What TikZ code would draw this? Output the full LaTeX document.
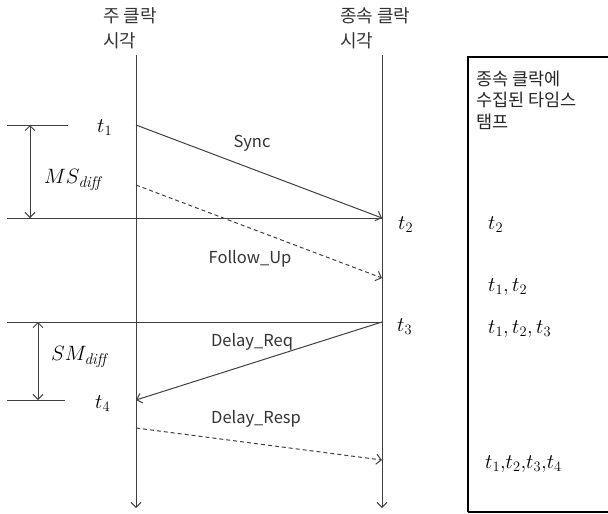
\documentclass[tikz,border=0pt]{standalone}
\usepackage{fontspec}
\newfontfamily\kr{Noto Sans CJK KR}
\usetikzlibrary{arrows.meta}
\begin{document}
\begin{tikzpicture}[x=1pt,y=-1pt,
  ln/.style={draw=black!75, line width=1pt},
  arr/.style={ln, -{Straight Barb[length=5pt,width=10pt]}},
  darr/.style={arr, dash pattern=on 4pt off 3pt},
  dim/.style={ln, {Straight Barb[length=5pt,width=10pt]}-{Straight Barb[length=5pt,width=10pt]}},
  ktxt/.style={font=\kr\fontsize{18}{25}\selectfont, text=black!80, align=left, anchor=west, inner sep=0pt},
  btxt/.style={font=\kr\fontsize{17.5}{21.5}\selectfont, text=black!85, align=left, anchor=west, inner sep=0pt},
  msg/.style={font=\kr\fontsize{16.5}{18}\selectfont, text=black!80, inner sep=0pt},
  mth/.style={font=\fontsize{22}{24}\selectfont, inner sep=0pt, anchor=west}]
\useasboundingbox (0,0) rectangle (608,514);
% lifelines
\coordinate (mtop) at (136,55);
\coordinate (mbot) at (136,508);
\coordinate (stop) at (382,55);
\coordinate (sbot) at (382,508);
\draw[arr] (mtop) -- (mbot);
\draw[arr] (stop) -- (sbot);
\node[ktxt] (mlab) at (103,28) {주 클락\\시각};
\node[ktxt] (slab) at (340,28) {종속 클락\\시각};
% box
\draw[line width=2.5pt] (468,512) -- (468,57) -- (612,57);
\draw[line width=2.5pt] (468,512) -- (612,512);
\node[btxt] (blab) at (476,100) {종속 클락에\\수집된 타임스\\탬프};
% points
\coordinate (t1) at (136,125);
\coordinate (t2) at (382,218);
\coordinate (fu1) at (136,185);
\coordinate (fu2) at (382,278);
\coordinate (t3) at (382,322);
\coordinate (t4) at (136,400);
\coordinate (dr1) at (136,428);
\coordinate (dr2) at (382,460);
% horizontal reference lines
\coordinate (h1a) at (7,125); \coordinate (h1b) at (68,125);
\coordinate (h2a) at (7,218);
\coordinate (h3a) at (7,322);
\coordinate (h4a) at (7,400); \coordinate (h4b) at (65,400);
\draw[ln] (h1a) -- (h1b);
\draw[ln] (h2a) -- (t2);
\draw[ln] (h3a) -- (t3);
\draw[ln] (h4a) -- (h4b);
% dimension arrows
\coordinate (d1a) at (30,125); \coordinate (d1b) at (30,218);
\coordinate (d2a) at (38,322); \coordinate (d2b) at (38,400);
\draw[dim] (d1a) -- (d1b);
\draw[dim] (d2a) -- (d2b);
\node[mth] (msd) at (44,180) {$MS_{\mathit{diff}}$};
\node[mth] (smd) at (51,357) {$SM_{\mathit{diff}}$};
% messages
\draw[arr] (t1) -- (t2);
\draw[darr] (fu1) -- (fu2);
\draw[arr] (t3) -- (t4);
\draw[darr] (dr1) -- (dr2);
\node[msg] (sync) at (252,143) {Sync};
\node[msg] (fup) at (250,259) {Follow\_Up};
\node[msg] (dreq) at (252,342) {Delay\_Req};
\node[msg] (dresp) at (256,419) {Delay\_Resp};
% time labels
\node[mth] (lt1) at (97,128) {$t_1$};
\node[mth] (lt2) at (398,225) {$t_2$};
\node[mth] (lt3) at (397,327) {$t_3$};
\node[mth] (lt4) at (95,404) {$t_4$};
% collected stamps
\node[mth] (c1) at (488,225) {$t_2$};
\node[mth] (c2) at (488,287) {$t_1, t_2$};
\node[mth] (c3) at (488,329) {$t_1, t_2, t_3$};
\node[mth] (c4) at (485,464) {$t_1{,}t_2{,}t_3{,}t_4$};
\end{tikzpicture}
\end{document}
